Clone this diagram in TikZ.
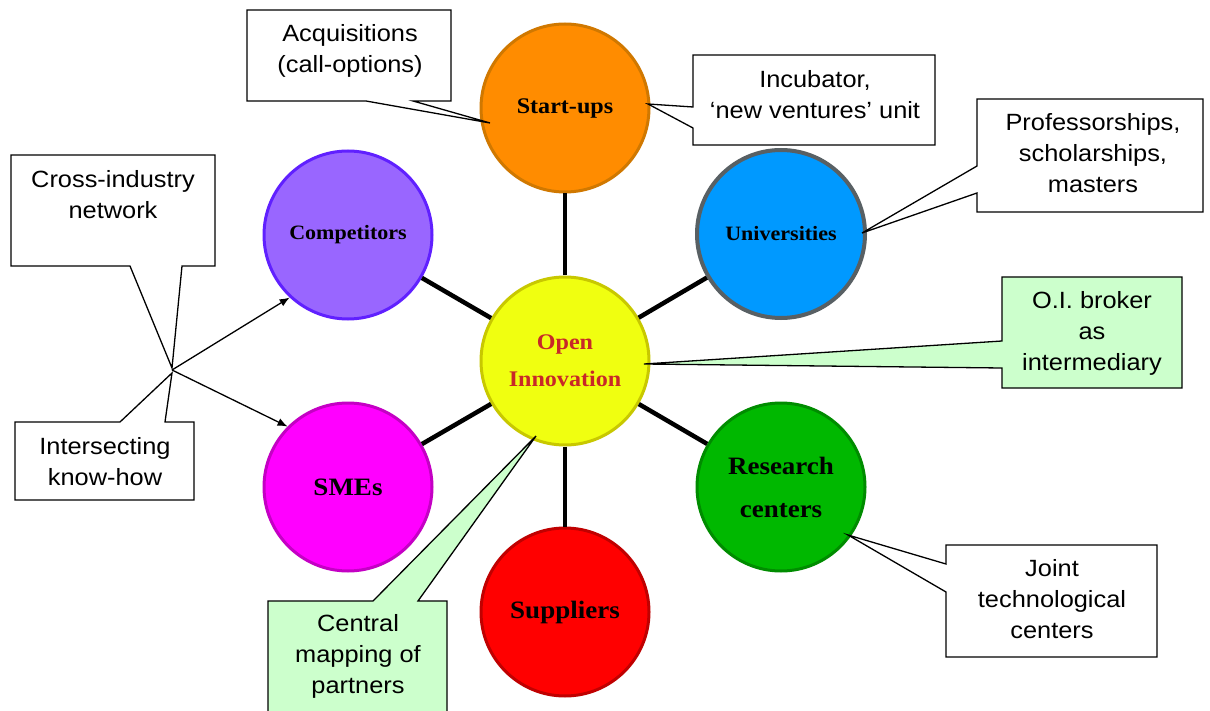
\documentclass[tikz,border=0pt]{standalone}
\usepackage{fontspec}
\setmainfont{Liberation Serif}[FakeStretch=1.08]
\newfontfamily\notefont{Liberation Sans}[FakeStretch=1.08]
\usetikzlibrary{arrows.meta}

\definecolor{suFill}{RGB}{255,140,0}\definecolor{suLine}{RGB}{208,120,0}
\definecolor{unFill}{RGB}{0,153,255}\definecolor{unLine}{RGB}{88,96,100}
\definecolor{rcFill}{RGB}{0,184,0}\definecolor{rcLine}{RGB}{0,140,0}
\definecolor{spFill}{RGB}{255,0,0}\definecolor{spLine}{RGB}{192,0,0}
\definecolor{smFill}{RGB}{255,0,255}\definecolor{smLine}{RGB}{196,0,196}
\definecolor{coFill}{RGB}{153,102,255}\definecolor{coLine}{RGB}{96,32,255}
\definecolor{oiFill}{RGB}{240,255,16}\definecolor{oiLine}{RGB}{200,200,0}
\definecolor{oiText}{RGB}{200,40,40}
\definecolor{noteGreen}{RGB}{204,255,204}

\begin{document}
\begin{tikzpicture}[x=1pt,y=-1pt,
  partner/.style={circle, minimum size=168pt, inner sep=0pt, line width=3pt,
    align=center, text=black},
  spoke/.style={line width=4.5pt},
  note/.style={draw=black, line width=1.3pt, fill=white, line join=miter},
  greennote/.style={note, fill=noteGreen},
  notetext/.style={align=center, inner sep=0pt,
    font=\notefont\fontsize{23.5}{31}\selectfont},
  link/.style={line width=1.3pt, -{Latex[length=10pt,width=8pt]}}
]
\useasboundingbox (0,0) rectangle (1210,711);
\clip (0,0) rectangle (1210,711);
\fill[white] (0,0) rectangle (1210,711);

% partner circles around the hub
\node[partner, fill=oiFill, draw=oiLine, text=oiText,
  font=\bfseries\fontsize{22.3}{37}\selectfont] (hub) at (565,361) {Open\\Innovation};
\node[partner, fill=suFill, draw=suLine,
  font=\bfseries\fontsize{22.3}{26}\selectfont] (su) at (565,108) {Start-ups};
\node[partner, fill=unFill, draw=unLine, line width=4pt,
  font=\bfseries\fontsize{20.4}{26}\selectfont] (un) at (781,234) {Universities};
\node[partner, fill=rcFill, draw=rcLine,
  font=\bfseries\fontsize{25}{43}\selectfont] (rc) at (781,487) {Research\\centers};
\node[partner, fill=spFill, draw=spLine,
  font=\bfseries\fontsize{25}{30}\selectfont] (sp) at (565,612) {Suppliers};
\node[partner, fill=smFill, draw=smLine,
  font=\bfseries\fontsize{25}{30}\selectfont] (sm) at (348,487) {SMEs};
\node[partner, fill=coFill, draw=coLine,
  font=\bfseries\fontsize{20.4}{26}\selectfont] (co) at (348,235) {Competitors};

% spokes
\foreach \p in {su,un,rc,sp,sm,co}
  \draw[spoke] (hub) -- (\p);

% pointer tips of the callouts
\coordinate (tipA) at (490,123);
\coordinate (tipI) at (648,104);
\coordinate (tipP) at (862,233);
\coordinate (tipO) at (644,364);
\coordinate (tipJ) at (848,535);
\coordinate (tipC) at (536,436);
\coordinate (tipX) at (172,368);
\coordinate (tipK) at (172,373);
\coordinate (xjoin) at (172,370);

% callout outlines
\draw[note] (247,10) -- (451,10) -- (451,101) -- (413,101) -- (tipA)
  -- (366,101) -- (247,101) -- cycle;
\draw[note] (693,55) -- (935,55) -- (935,145) -- (693,145) -- (693,128)
  -- (tipI) -- (693,107) -- cycle;
\draw[note] (977,99) -- (1203,99) -- (1203,212) -- (977,212) -- (977,193)
  -- (tipP) -- (977,166) -- cycle;
\draw[greennote] (1002,277) -- (1182,277) -- (1182,388) -- (1002,388)
  -- (1002,368) -- (tipO) -- (1002,341) -- cycle;
\draw[note] (946,545) -- (1157,545) -- (1157,657) -- (946,657) -- (946,592)
  -- (tipJ) -- (946,564) -- cycle;
\draw[greennote] (268,601) -- (373,601) -- (tipC) -- (418,601) -- (447,601)
  -- (447,720) -- (268,720) -- cycle;
\draw[note] (11,155) -- (215,155) -- (215,266) -- (182,266) -- (tipX)
  -- (130,266) -- (11,266) -- cycle;
\draw[note] (15,422) -- (120,422) -- (tipK) -- (165,422) -- (194,422)
  -- (194,500) -- (15,500) -- cycle;

% callout texts
\node[notetext] (acq) at (350,51) {Acquisitions\\(call-options)};
\node[notetext] (inc) at (815,95) {Incubator,\\‘new ventures’ unit};
\node[notetext] (prof) at (1093,153) {Professorships,\\scholarships,\\masters};
\node[notetext] (brk) at (1092,333) {O.I. broker\\as\\intermediary};
\node[notetext] (jnt) at (1052,599) {Joint\\technological\\centers};
\node[notetext] (map) at (358,656) {Central\\mapping of\\partners};
\node[notetext] (cross) at (113,195) {Cross-industry\\network};
\node[notetext] (know) at (105,462) {Intersecting\\know-how};

% arrows from the cross-industry junction
\draw[link] (xjoin) -- (co.227);
\draw[link] (xjoin) -- (sm.135);
\end{tikzpicture}
\end{document}
